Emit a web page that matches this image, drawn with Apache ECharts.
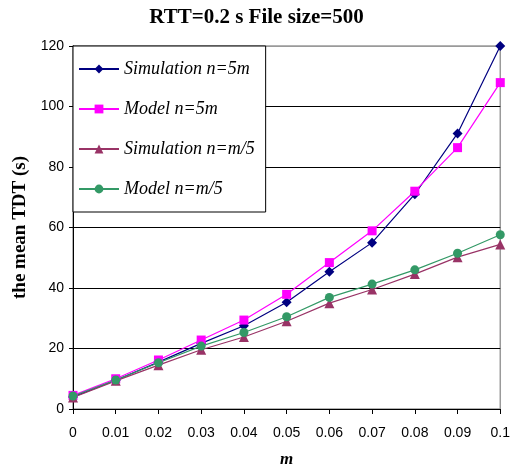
<!DOCTYPE html>
<html>
<head>
<meta charset="utf-8">
<script src="https://cdn.jsdelivr.net/npm/echarts@6/dist/echarts.min.js"></script>
<style>
  html, body { margin: 0; padding: 0; background: #fff; }
  #chart { width: 513px; height: 474px; }
</style>
</head>
<body>
<div id="chart"></div>
<script>
// x categories (m)
var mValues = ["0", "0.01", "0.02", "0.03", "0.04", "0.05", "0.06", "0.07", "0.08", "0.09", "0.1"];

// the mean TDT (s)
var simN5m  = [4.0, 9.5, 15.5, 21.7, 27.5, 35.3, 45.4, 55.0, 71.0, 91.1, 120.0];
var modelN5m = [4.5, 10.0, 16.2, 22.8, 29.4, 37.9, 48.4, 58.9, 72.0, 86.4, 107.9];
var simNm5  = [3.8, 9.3, 14.5, 19.6, 23.8, 29.0, 35.0, 39.5, 44.6, 50.2, 54.4];
var modelNm5 = [4.3, 9.6, 15.3, 20.8, 25.3, 30.5, 36.9, 41.3, 46.0, 51.5, 57.6];

var yTicks = [0, 20, 40, 60, 80, 100, 120];

var myChart = echarts.init(document.getElementById("chart"));

var serif = "'Liberation Serif', 'Times New Roman', serif";
var sans = "'Liberation Sans', Arial, sans-serif";

function line(name, data, color, symbol, size) {
  return {
    name: name,
    type: "line",
    data: data,
    symbol: symbol,
    symbolSize: size,
    showSymbol: true,
    lineStyle: { color: color, width: 1.2 },
    itemStyle: { color: color },
    emphasis: { disabled: true },
    animation: false
  };
}

var option = {
  backgroundColor: "#fff",
  animation: false,
  title: {
    text: "RTT=0.2 s File size=500",
    left: "center",
    top: 2,
    textStyle: { fontFamily: serif, fontWeight: "bold", fontSize: 21, color: "#000" }
  },
  grid: {
    left: 73,
    right: 10,
    top: 46,
    bottom: 65,
    show: true,
    borderColor: "#9a9a9a",
    borderWidth: 1.5,
    containLabel: false
  },
  legend: {
    orient: "vertical",
    left: 73,
    top: 46,
    padding: [14, 11, 14, 5],
    itemGap: 22,
    itemWidth: 40,
    itemHeight: 11,
    backgroundColor: "#fff",
    borderColor: "#000",
    borderWidth: 1,
    borderRadius: 0,
    textStyle: { fontFamily: serif, fontStyle: "italic", fontSize: 18, color: "#000" },
    data: ["Simulation n=5m", "Model n=5m", "Simulation n=m/5", "Model n=m/5"]
  },
  xAxis: {
    type: "category",
    data: mValues,
    boundaryGap: false,
    name: "m",
    nameLocation: "middle",
    nameGap: 42,
    nameTextStyle: { fontFamily: serif, fontWeight: "bold", fontStyle: "italic", fontSize: 17, color: "#000" },
    axisLine: { lineStyle: { color: "#000", width: 1 } },
    axisTick: { show: true, alignWithLabel: true, length: 5, lineStyle: { color: "#000" } },
    axisLabel: { fontFamily: sans, fontSize: 14, color: "#000", margin: 17, interval: 0 },
    splitLine: { show: false }
  },
  yAxis: {
    type: "value",
    min: yTicks[0],
    max: yTicks[yTicks.length - 1],
    interval: 20,
    name: "the mean TDT (s)",
    nameLocation: "middle",
    nameGap: 43,
    nameTextStyle: { fontFamily: serif, fontWeight: "bold", fontSize: 19, color: "#000" },
    axisLine: { show: true, lineStyle: { color: "#000", width: 1 } },
    axisTick: { show: true, length: 4, lineStyle: { color: "#000" } },
    axisLabel: { fontFamily: sans, fontSize: 14, color: "#000", margin: 9 },
    splitLine: {
      show: true,
      lineStyle: { color: ["#000", "#000", "#000", "#000", "#000", "#000", "#9a9a9a"], width: 1 }
    }
  },
  series: [
    line("Simulation n=5m", simN5m, "#000080", "diamond", 10),
    line("Model n=5m", modelN5m, "#ff00ff", "rect", 9),
    line("Simulation n=m/5", simNm5, "#993366", "triangle", 10),
    line("Model n=m/5", modelNm5, "#339966", "circle", 9)
  ]
};

myChart.setOption(option);
</script>
</body>
</html>
